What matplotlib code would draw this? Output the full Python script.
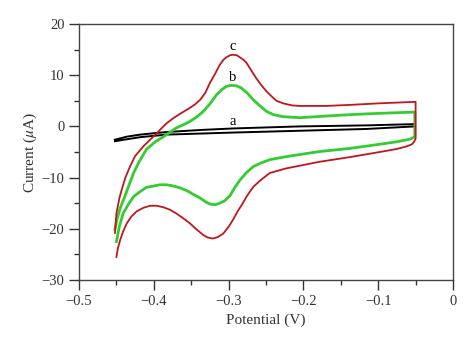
import numpy as np
import matplotlib
matplotlib.use('Agg')
import matplotlib.pyplot as plt

# curve c (red): anodic branch (-0.45 -> -0.05) then cathodic branch back
c_x = [-0.452, -0.450, -0.446, -0.443, -0.438, -0.432, -0.425, -0.418, -0.414, -0.405,
       -0.397, -0.390, -0.383, -0.374, -0.365, -0.352, -0.345, -0.338, -0.331, -0.325,
       -0.318, -0.312, -0.307, -0.303, -0.298, -0.294, -0.289, -0.285, -0.280, -0.276,
       -0.270, -0.263, -0.256, -0.249, -0.242, -0.236, -0.227, -0.215, -0.205, -0.170,
       -0.138, -0.100, -0.050,
       -0.050, -0.052, -0.055, -0.062, -0.075, -0.094, -0.138, -0.178, -0.223, -0.245,
       -0.258, -0.267, -0.276, -0.281, -0.288, -0.294, -0.300, -0.307, -0.314, -0.321,
       -0.328, -0.334, -0.343, -0.352, -0.361, -0.370, -0.378, -0.387, -0.396, -0.405,
       -0.414, -0.423, -0.430, -0.436, -0.441, -0.445, -0.448, -0.450]
c_y = [-20.8, -17.0, -14.0, -12.4, -10.0, -7.9, -5.8, -4.6, -3.9, -2.6,
       -1.5, -0.4, 0.6, 1.6, 2.45, 3.6, 4.3, 5.2, 6.6, 8.5,
       10.3, 12.0, 13.0, 13.5, 13.9, 14.0, 13.9, 13.5, 13.0, 12.4,
       11.0, 9.4, 8.0, 6.8, 5.8, 5.0, 4.5, 4.1, 4.0, 4.0,
       4.2, 4.5, 4.8,
       -2.4, -3.0, -3.5, -3.9, -4.4, -4.9, -6.0, -6.9, -8.2, -9.1,
       -10.6, -11.8, -13.7, -15.0, -16.6, -18.2, -19.6, -20.9, -21.6, -21.9,
       -21.7, -21.2, -20.1, -18.9, -17.9, -17.0, -16.3, -15.8, -15.5, -15.5,
       -15.9, -16.6, -17.6, -18.9, -20.5, -22.2, -23.8, -25.5]

# curve b (green)
b_x = [-0.452, -0.449, -0.445, -0.438, -0.432, -0.427, -0.420, -0.410, -0.398, -0.387,
       -0.378, -0.370, -0.361, -0.352, -0.343, -0.334, -0.325, -0.316, -0.309, -0.303,
       -0.298, -0.294, -0.289, -0.283, -0.275, -0.267, -0.258, -0.249, -0.240, -0.227,
       -0.205, -0.183, -0.150, -0.116, -0.080, -0.051,
       -0.051, -0.053, -0.058, -0.075, -0.094, -0.138, -0.178, -0.223, -0.245, -0.256,
       -0.267, -0.276, -0.285, -0.292, -0.298, -0.305, -0.312, -0.318, -0.324, -0.330,
       -0.338, -0.347, -0.355, -0.365, -0.375, -0.383, -0.392, -0.402, -0.410, -0.418,
       -0.427, -0.434, -0.441, -0.446, -0.450]
b_y = [-20.1, -18.0, -16.0, -13.4, -11.0, -9.1, -7.0, -4.5, -3.0, -2.0,
       -1.1, -0.3, 0.3, 0.95, 1.8, 2.9, 4.4, 6.2, 7.2, 7.8,
       8.0, 8.0, 7.9, 7.5, 6.5, 5.2, 4.0, 2.9, 2.3, 1.9,
       1.7, 1.9, 2.2, 2.45, 2.65, 2.8,
       -1.9, -2.2, -2.5, -3.0, -3.4, -4.3, -4.9, -5.9, -6.5, -7.1,
       -7.85, -9.0, -10.5, -12.0, -13.5, -14.5, -15.0, -15.3, -15.2, -14.8,
       -14.0, -13.3, -12.6, -12.0, -11.6, -11.4, -11.4, -11.7, -11.9, -12.7,
       -13.7, -15.2, -17.0, -19.5, -22.5]

# curve a (black, bare electrode)
a_x = [-0.452, -0.436, -0.418, -0.401, -0.383, -0.338, -0.294, -0.250, -0.205, -0.160,
       -0.116, -0.051,
       -0.051, -0.116, -0.205, -0.294, -0.383, -0.418, -0.440, -0.452]
a_y = [-2.6, -2.0, -1.6, -1.35, -1.1, -0.7, -0.4, -0.2, 0.0, 0.1,
       0.2, 0.45,
       0.0, -0.5, -0.85, -1.2, -1.6, -2.1, -2.6, -2.9]

labels = ['a', 'b', 'c']
label_x = [-0.295, -0.295, -0.295]
label_y = [1.0, 9.5, 15.6]

plt.rcParams['font.family'] = ['Liberation Serif', 'DejaVu Serif']
plt.rcParams['mathtext.fontset'] = 'stix'

fig = plt.figure(figsize=(4.74, 3.45), dpi=100)
ax = fig.add_axes([0.1667, 0.1884, 0.789, 0.742])

ax.plot(a_x, a_y, color='black', linewidth=1.4)
ax.plot(b_x, b_y, color='#33cc33', linewidth=2.0)
ax.plot(c_x, c_y, color='#c0161c', linewidth=1.3)

for lab, lx, ly in zip(labels, label_x, label_y):
    ax.text(lx, ly, lab, fontsize=10.5, ha='center', va='center', color='black')

ax.set_xlim(-0.5, 0)
ax.set_ylim(-30, 20)
ax.set_xticks([-0.5, -0.4, -0.3, -0.2, -0.1, 0])
ax.set_xticklabels(['\u22120.5', '\u22120.4', '\u22120.3', '\u22120.2', '\u22120.1', '0'])
ax.set_xticks(np.arange(-0.45, 0, 0.1), minor=True)
ax.set_yticks([-30, -20, -10, 0, 10, 20])
ax.set_yticklabels(['\u221230', '\u221220', '\u221210', '0', '10', '20'])
ax.set_yticks([-25, -15, -5, 5, 15], minor=True)

ax.tick_params(which='both', direction='out', top=False, right=False, labelsize=10.5, colors='#333333')
ax.tick_params(which='major', length=7, width=1)
ax.tick_params(which='minor', length=3.5, width=1)
for sp in ax.spines.values():
    sp.set_color('#444444')
    sp.set_linewidth(1)

ax.set_xlabel('Potential (V)', fontsize=11, color='#333333', labelpad=4)
ax.set_ylabel('Current ($\\mu$A)', fontsize=11, color='#333333', labelpad=2)

plt.savefig('out.png', dpi=100)
plt.close()
